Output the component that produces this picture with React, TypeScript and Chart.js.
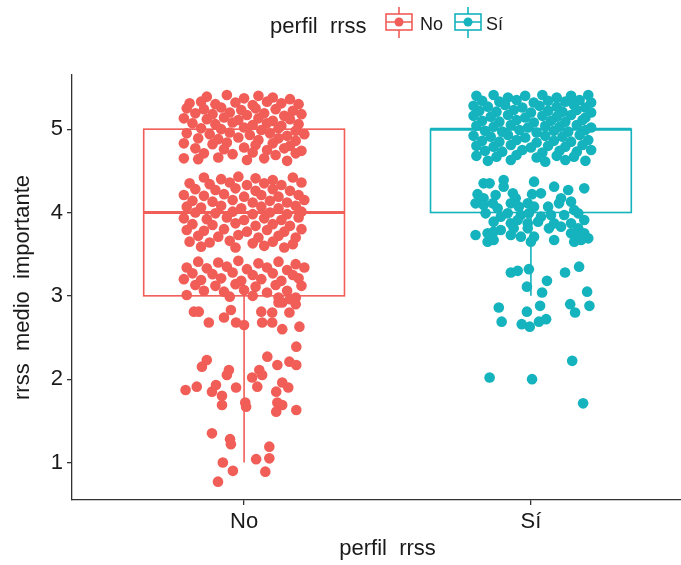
import React, { useEffect, useRef } from 'react';
import { Chart, registerables } from 'chart.js';

Chart.register(...registerables);

const categories = ['No', 'Sí'];
const groupColors = ['#F15D57', '#14B3BD'];
const legendTitle = 'perfil  rrss';
const xTitle = 'perfil  rrss';
const yTitle = 'rrss  medio  importante';
const yTicks = [1, 2, 3, 4, 5];

const boxQ1 = [3, 4];
const boxMedian = [4, 5];
const boxQ3 = [5, 5];
const whiskerLow = [1, 3];
const whiskerHigh = [5, 5];

// [jitter offset from category position, jittered value]
const noPoints: [number, number][] = [
  [-0.13, 5.39], [-0.06, 5.41], [0.0, 5.37], [0.05, 5.4], [0.1, 5.38], [0.16, 5.36],
  [-0.19, 5.31], [-0.15, 5.33], [-0.1, 5.3], [-0.03, 5.32], [0.03, 5.29], [0.08, 5.33], [0.13, 5.31], [0.19, 5.3],
  [-0.2, 5.25], [-0.14, 5.24], [-0.08, 5.26], [-0.01, 5.23], [0.04, 5.25], [0.11, 5.24], [0.17, 5.22],
  [-0.17, 5.19], [-0.11, 5.18], [-0.05, 5.2], [0.01, 5.17], [0.07, 5.19], [0.14, 5.16], [0.2, 5.18],
  [-0.21, 5.13], [-0.13, 5.12], [-0.07, 5.14], [-0.02, 5.11], [0.05, 5.13], [0.1, 5.1], [0.16, 5.12],
  [-0.18, 5.07], [-0.1, 5.06], [-0.04, 5.08], [0.03, 5.05], [0.08, 5.07], [0.13, 5.04], [0.19, 5.06],
  [-0.15, 5.01], [-0.08, 5.0], [0.0, 5.02], [0.06, 4.99], [0.12, 5.01], [0.18, 4.98],
  [-0.2, 4.95], [-0.12, 4.94], [-0.05, 4.96], [0.02, 4.93], [0.09, 4.95], [0.15, 4.92], [0.21, 4.94],
  [-0.16, 4.89], [-0.09, 4.88], [-0.02, 4.9], [0.05, 4.87], [0.12, 4.89], [0.18, 4.86],
  [-0.21, 4.83], [-0.11, 4.82], [-0.06, 4.84], [0.04, 4.81], [0.1, 4.83], [0.16, 4.8],
  [-0.17, 4.77], [-0.07, 4.76], [0.0, 4.78], [0.08, 4.75], [0.14, 4.77], [0.2, 4.74],
  [-0.14, 4.71], [-0.04, 4.7], [0.03, 4.72], [0.11, 4.69], [0.18, 4.71],
  [-0.21, 4.65], [-0.16, 4.64], [-0.09, 4.66], [0.01, 4.63], [0.07, 4.65], [0.15, 4.62],

  [-0.14, 4.42], [-0.08, 4.4], [-0.02, 4.43], [0.04, 4.41], [0.1, 4.39], [0.17, 4.42],
  [-0.19, 4.35], [-0.12, 4.34], [-0.05, 4.36], [0.01, 4.33], [0.07, 4.35], [0.13, 4.33], [0.2, 4.36],
  [-0.17, 4.28], [-0.1, 4.27], [-0.03, 4.29], [0.04, 4.26], [0.1, 4.28], [0.16, 4.26],
  [-0.21, 4.21], [-0.14, 4.2], [-0.07, 4.22], [0.0, 4.19], [0.06, 4.21], [0.12, 4.19], [0.19, 4.21],
  [-0.18, 4.14], [-0.11, 4.13], [-0.04, 4.15], [0.03, 4.12], [0.09, 4.14], [0.15, 4.12], [0.21, 4.15],
  [-0.2, 4.07], [-0.15, 4.06], [-0.08, 4.08], [-0.01, 4.05], [0.06, 4.07], [0.12, 4.05], [0.18, 4.08],
  [-0.17, 4.0], [-0.1, 3.99], [-0.04, 4.01], [0.03, 3.98], [0.09, 4.0], [0.15, 3.98], [0.2, 4.01],
  [-0.21, 3.93], [-0.13, 3.92], [-0.06, 3.94], [0.0, 3.91], [0.07, 3.93], [0.13, 3.91], [0.19, 3.94],
  [-0.18, 3.86], [-0.11, 3.85], [-0.03, 3.87], [0.04, 3.84], [0.1, 3.86], [0.16, 3.84],
  [-0.2, 3.79], [-0.14, 3.78], [-0.07, 3.8], [0.01, 3.77], [0.08, 3.79], [0.14, 3.77], [0.2, 3.8],
  [-0.16, 3.72], [-0.09, 3.71], [-0.02, 3.73], [0.05, 3.7], [0.12, 3.72], [0.18, 3.7],
  [-0.19, 3.65], [-0.12, 3.64], [-0.05, 3.66], [0.03, 3.63], [0.1, 3.65], [0.17, 3.62],
  [-0.15, 3.59], [-0.03, 3.58], [0.07, 3.6], [0.14, 3.58],

  [-0.16, 3.41], [-0.09, 3.4], [-0.02, 3.42], [0.05, 3.39], [0.12, 3.41], [0.18, 3.38],
  [-0.2, 3.34], [-0.13, 3.33], [-0.06, 3.35], [0.01, 3.32], [0.08, 3.34], [0.15, 3.31], [0.21, 3.34],
  [-0.18, 3.27], [-0.11, 3.26], [-0.04, 3.28], [0.03, 3.25], [0.1, 3.27], [0.17, 3.25],
  [-0.21, 3.2], [-0.15, 3.19], [-0.08, 3.21], [-0.01, 3.18], [0.06, 3.2], [0.13, 3.18], [0.19, 3.21],
  [-0.17, 3.13], [-0.1, 3.12], [-0.03, 3.14], [0.04, 3.11], [0.11, 3.13], [0.2, 3.12],
  [-0.14, 3.06], [-0.07, 3.05], [0.0, 3.07], [0.08, 3.04], [0.15, 3.06],
  [-0.2, 3.01], [-0.05, 2.99], [0.03, 3.0], [0.12, 2.98], [0.18, 2.98],
  [-0.175, 2.81], [-0.158, 2.81], [-0.123, 2.68], [-0.046, 2.83], [-0.07, 2.74], [-0.028, 2.68],
  [0.0, 2.65], [0.06, 2.81], [0.098, 2.8], [0.133, 2.92], [0.158, 2.8], [0.063, 2.68],
  [0.098, 2.68], [0.133, 2.6], [0.193, 2.63], [0.18, 2.9], [0.12, 2.92], [0.16, 2.96],

  [-0.13, 2.23], [-0.147, 2.15], [-0.053, 2.11], [-0.06, 2.05], [-0.204, 1.87], [-0.165, 1.91],
  [-0.112, 1.85], [-0.098, 1.93], [-0.077, 1.8], [-0.077, 1.69], [-0.028, 1.9], [0.004, 1.72],
  [0.007, 1.67], [0.028, 2.02], [0.053, 2.11], [0.063, 2.05], [0.046, 1.91], [0.081, 2.27],
  [0.116, 2.17], [0.158, 2.21], [0.182, 2.17], [0.182, 2.39], [0.112, 1.85], [0.133, 1.96],
  [0.154, 1.9], [0.116, 1.72], [0.133, 1.69], [0.112, 1.61], [0.182, 1.63],

  [-0.112, 1.35], [-0.049, 1.28], [-0.046, 1.22], [0.088, 1.19], [-0.074, 1.0], [-0.039, 0.9],
  [0.042, 1.04], [0.088, 1.05], [0.074, 0.89], [-0.091, 0.77],
];

const siPoints: [number, number][] = [
  [-0.19, 5.4], [-0.13, 5.41], [-0.08, 5.38], [-0.02, 5.4], [0.04, 5.41], [0.09, 5.38], [0.14, 5.4], [0.2, 5.41],
  [-0.17, 5.34], [-0.11, 5.33], [-0.05, 5.35], [0.01, 5.32], [0.06, 5.34], [0.12, 5.33], [0.17, 5.35], [0.21, 5.32],
  [-0.2, 5.28], [-0.15, 5.27], [-0.09, 5.29], [-0.03, 5.26], [0.03, 5.28], [0.09, 5.27], [0.15, 5.29], [0.19, 5.26],
  [-0.18, 5.22], [-0.12, 5.21], [-0.06, 5.23], [0.0, 5.2], [0.06, 5.22], [0.11, 5.21], [0.16, 5.23], [0.21, 5.2],
  [-0.2, 5.16], [-0.14, 5.15], [-0.08, 5.17], [-0.02, 5.14], [0.04, 5.16], [0.09, 5.15], [0.14, 5.17], [0.19, 5.14],
  [-0.17, 5.1], [-0.11, 5.09], [-0.05, 5.11], [0.01, 5.08], [0.07, 5.1], [0.12, 5.09], [0.18, 5.11],
  [-0.19, 5.04], [-0.13, 5.03], [-0.07, 5.05], [-0.01, 5.02], [0.05, 5.04], [0.1, 5.03], [0.16, 5.05], [0.21, 5.02],
  [-0.16, 4.98], [-0.1, 4.97], [-0.04, 4.99], [0.02, 4.96], [0.08, 4.98], [0.13, 4.97], [0.19, 4.99],
  [-0.2, 4.92], [-0.14, 4.91], [-0.08, 4.93], [-0.02, 4.9], [0.05, 4.92], [0.11, 4.91], [0.17, 4.93],
  [-0.17, 4.86], [-0.11, 4.85], [-0.05, 4.87], [0.02, 4.84], [0.08, 4.86], [0.14, 4.85], [0.2, 4.87],
  [-0.19, 4.8], [-0.13, 4.79], [-0.07, 4.81], [0.0, 4.78], [0.06, 4.8], [0.12, 4.79], [0.18, 4.81],
  [-0.16, 4.74], [-0.1, 4.73], [-0.03, 4.75], [0.04, 4.72], [0.1, 4.74], [0.16, 4.73], [0.21, 4.75],
  [-0.19, 4.68], [-0.12, 4.67], [-0.05, 4.69], [0.02, 4.66], [0.09, 4.68], [0.15, 4.67],
  [-0.15, 4.62], [-0.07, 4.63], [0.05, 4.61], [0.12, 4.63], [0.19, 4.62],

  [-0.165, 4.35], [-0.144, 4.35], [-0.095, 4.39], [-0.095, 4.31], [0.011, 4.37], [0.081, 4.31],
  [0.13, 4.27], [0.186, 4.29], [-0.186, 4.22], [-0.165, 4.17], [-0.123, 4.21], [-0.063, 4.23],
  [-0.053, 4.17], [0.004, 4.22], [0.035, 4.23], [0.105, 4.17], [0.14, 4.13], [-0.193, 4.11],
  [-0.165, 4.09], [-0.133, 4.11], [-0.116, 4.05], [-0.07, 4.11], [-0.042, 4.07], [-0.011, 4.11],
  [0.011, 4.07], [0.06, 4.07], [0.098, 4.11], [0.151, 4.03], [-0.158, 3.99], [-0.105, 3.95],
  [-0.081, 3.99], [-0.035, 3.97], [-0.007, 3.99], [0.035, 3.95], [0.07, 3.97], [0.116, 3.97],
  [0.165, 3.99], [-0.13, 3.89], [-0.07, 3.87], [-0.046, 3.91], [-0.011, 3.87], [0.025, 3.89],
  [0.081, 3.87], [0.14, 3.87], [0.186, 3.91], [-0.105, 3.79], [-0.06, 3.81], [-0.011, 3.81],
  [0.063, 3.81], [0.105, 3.83], [0.165, 3.81], [-0.193, 3.73], [-0.151, 3.75], [-0.13, 3.77],
  [-0.07, 3.73], [-0.035, 3.71], [0.011, 3.71], [0.081, 3.67], [0.14, 3.75], [0.158, 3.71],
  [0.2, 3.69], [0.186, 3.75], [-0.151, 3.65], [-0.13, 3.67], [0.0, 3.65], [0.151, 3.65],
  [0.175, 3.67],

  [-0.07, 3.28], [-0.046, 3.3], [-0.007, 3.32], [0.056, 3.18], [0.119, 3.28], [0.168, 3.35],
  [-0.014, 3.11], [0.039, 3.04], [0.196, 3.05], [-0.112, 2.86], [-0.102, 2.69], [-0.014, 2.81],
  [-0.032, 2.66], [-0.004, 2.63], [0.032, 2.88], [0.028, 2.69], [0.053, 2.72], [0.137, 2.9],
  [0.154, 2.8], [0.204, 2.88],

  [0.144, 2.22], [-0.144, 2.02], [0.004, 2.0], [0.182, 1.71],
];

const groupPoints = [noPoints, siPoints];

const FONT = "'Liberation Sans', Arial, Helvetica, sans-serif";

const boxPlugin = {
  id: 'boxPlugin',
  beforeDatasetsDraw(chart: any) {
    const { ctx, scales } = chart;
    const x = scales.x;
    const y = scales.y;
    ctx.save();
    categories.forEach((_, i) => {
      const pos = i + 1;
      const xl = x.getPixelForValue(pos - 0.35);
      const xr = x.getPixelForValue(pos + 0.35);
      const xc = x.getPixelForValue(pos);
      const yq1 = y.getPixelForValue(boxQ1[i]);
      const yq3 = y.getPixelForValue(boxQ3[i]);
      const ymed = y.getPixelForValue(boxMedian[i]);
      const ylo = y.getPixelForValue(whiskerLow[i]);
      const yhi = y.getPixelForValue(whiskerHigh[i]);
      ctx.strokeStyle = groupColors[i];
      ctx.lineWidth = 1.6;
      ctx.beginPath();
      ctx.moveTo(xc, yq1);
      ctx.lineTo(xc, ylo);
      ctx.moveTo(xc, yq3);
      ctx.lineTo(xc, yhi);
      ctx.stroke();
      ctx.strokeRect(xl, yq3, xr - xl, yq1 - yq3);
      ctx.lineWidth = 3;
      ctx.beginPath();
      ctx.moveTo(xl, ymed);
      ctx.lineTo(xr, ymed);
      ctx.stroke();
    });
    ctx.restore();
  },
};

const legendPlugin = {
  id: 'legendPlugin',
  afterDraw(chart: any) {
    const { ctx } = chart;
    ctx.save();
    ctx.fillStyle = '#1a1a1a';
    ctx.font = `22px ${FONT}`;
    ctx.textBaseline = 'alphabetic';
    ctx.textAlign = 'left';
    ctx.fillText(legendTitle, 270, 33);
    const keyCenters = [399, 468];
    const labelX = [420, 486];
    categories.forEach((c, i) => {
      const cx = keyCenters[i];
      const cy = 22;
      ctx.strokeStyle = groupColors[i];
      ctx.lineWidth = 1.6;
      ctx.strokeRect(cx - 13, cy - 8, 26, 16);
      ctx.beginPath();
      ctx.moveTo(cx, cy - 15);
      ctx.lineTo(cx, cy - 8);
      ctx.moveTo(cx, cy + 8);
      ctx.lineTo(cx, cy + 16);
      ctx.moveTo(cx - 13, cy);
      ctx.lineTo(cx + 13, cy);
      ctx.stroke();
      ctx.fillStyle = groupColors[i];
      ctx.beginPath();
      ctx.arc(cx, cy, 4.5, 0, Math.PI * 2);
      ctx.fill();
      ctx.fillStyle = '#1a1a1a';
      ctx.font = `18px ${FONT}`;
      ctx.fillText(c, labelX[i], 30);
    });
    ctx.restore();
  },
};

export default function App() {
  const canvasRef = useRef<HTMLCanvasElement | null>(null);

  useEffect(() => {
    const canvas = canvasRef.current;
    if (!canvas) return;
    const datasets = categories.map((c, i) => ({
      label: c,
      data: groupPoints[i].map(([dx, v]) => ({ x: i + 1 + dx, y: v })),
      backgroundColor: groupColors[i],
      borderWidth: 0,
      pointRadius: 5.3,
      pointHoverRadius: 5.3,
    }));
    const chart = new Chart(canvas, {
      type: 'scatter',
      data: { datasets },
      plugins: [boxPlugin, legendPlugin],
      options: {
        animation: false,
        responsive: false,
        maintainAspectRatio: false,
        devicePixelRatio: 1,
        layout: { padding: { top: 75, right: 9, left: 0, bottom: 0 } },
        plugins: { legend: { display: false }, tooltip: { enabled: false } },
        scales: {
          x: {
            type: 'linear',
            min: 0.4,
            max: 2.6,
            afterBuildTicks: (scale: any) => {
              scale.ticks = categories.map((_, i) => ({ value: i + 1 }));
            },
            afterFit: (scale: any) => {
              scale.height = 65;
            },
            ticks: {
              autoSkip: false,
              maxRotation: 0,
              padding: 4,
              color: '#1a1a1a',
              font: { family: FONT, size: 22 },
              callback: (v: any) => categories[Math.round(Number(v)) - 1] ?? '',
            },
            grid: {
              display: true,
              drawOnChartArea: false,
              drawTicks: true,
              tickLength: 5,
              color: '#333333',
              lineWidth: 1.3,
            },
            border: { display: true, color: '#333333', width: 1.3 },
            title: {
              display: true,
              text: xTitle,
              color: '#1a1a1a',
              font: { family: FONT, size: 22 },
              padding: { top: 0, bottom: 3 },
            },
          },
          y: {
            type: 'linear',
            min: 0.55,
            max: 5.65,
            afterBuildTicks: (scale: any) => {
              scale.ticks = yTicks.map((v) => ({ value: v }));
            },
            afterFit: (scale: any) => {
              scale.width = 72;
            },
            ticks: {
              padding: 4,
              color: '#1a1a1a',
              font: { family: FONT, size: 22 },
              callback: (v: any) => String(v),
            },
            grid: {
              display: true,
              drawOnChartArea: false,
              drawTicks: true,
              tickLength: 5,
              color: '#333333',
              lineWidth: 1.3,
            },
            border: { display: true, color: '#333333', width: 1.3 },
            title: {
              display: true,
              text: yTitle,
              color: '#1a1a1a',
              font: { family: FONT, size: 22 },
              padding: { top: 10, bottom: 0 },
            },
          },
        },
      },
    } as any);
    return () => chart.destroy();
  }, []);

  return (
    <div
      style={{
        position: 'fixed',
        left: 0,
        top: 0,
        width: 681,
        height: 565,
        overflow: 'hidden',
        background: '#ffffff',
      }}
    >
      <canvas
        ref={canvasRef}
        width={712}
        height={565}
        style={{ width: 712, height: 565, display: 'block' }}
      />
    </div>
  );
}
